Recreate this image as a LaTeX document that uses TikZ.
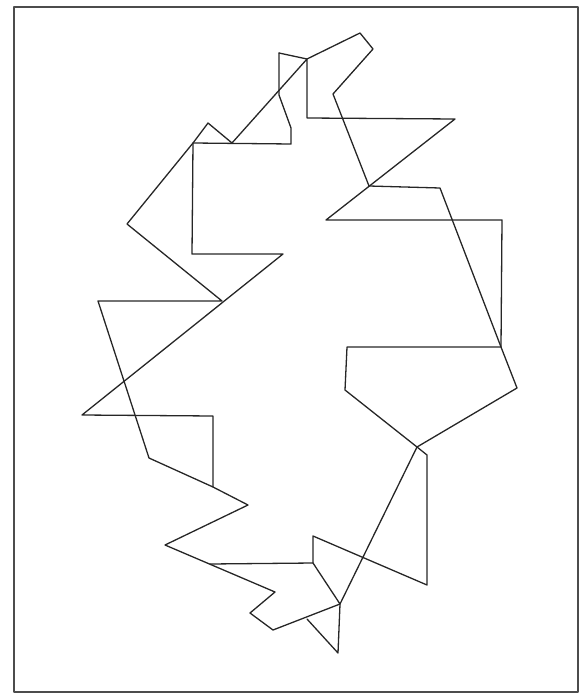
\documentclass[tikz,border=0pt]{standalone}
\usetikzlibrary{positioning}

\begin{document}
\begin{tikzpicture}[line cap=round,line join=round,x=1pt,y=-1pt]
	\useasboundingbox (0,0) rectangle (586,695);
	\draw [line width=2.4pt,color=black!70] (14,7) rectangle (578,692);
	% vertices
	\coordinate (a1) at (279,53);
	\coordinate (a2) at (307,59);
	\coordinate (a3) at (360,33);
	\coordinate (a4) at (373,49);
	\coordinate (a5) at (333,94);
	\coordinate (a6) at (369,186);
	\coordinate (a7) at (440,188);
	\coordinate (a8) at (501,347);
	\coordinate (a9) at (517,388);
	\coordinate (a10) at (417,447);
	\coordinate (a11) at (427,455);
	\coordinate (a12) at (427,585);
	\coordinate (a13) at (313,536);
	\coordinate (a14) at (313,563);
	\coordinate (a15) at (340,604);
	\coordinate (a16) at (338,653);
	\coordinate (a17) at (307,619);
	\coordinate (b1) at (307,118);
	\coordinate (b2) at (455,119);
	\coordinate (b3) at (326,220);
	\coordinate (b4) at (502,220);
	\coordinate (b5) at (347,347);
	\coordinate (b6) at (345,390);
	\coordinate (b7) at (273,630);
	\coordinate (b8) at (250,613);
	\coordinate (b9) at (275,592);
	\coordinate (b10) at (165,545);
	\coordinate (b11) at (248,505);
	\coordinate (b12) at (213,487);
	\coordinate (b13) at (213,416);
	\coordinate (b14) at (82,415);
	\coordinate (b15) at (283,254);
	\coordinate (b16) at (192,254);
	\coordinate (b17) at (193,143);
	\coordinate (b18) at (208,123);
	\coordinate (b19) at (232,143);
	\coordinate (c1) at (210,564);
	\coordinate (d1) at (149,458);
	\coordinate (d2) at (98,301);
	\coordinate (d3) at (222,301);
	\coordinate (d4) at (127,224);
	\coordinate (d5) at (291,144);
	\coordinate (d6) at (291,128);
	\coordinate (d7) at (279,95);
	\tikzset{walk/.style={line width=1.3pt,color=black!85}}
	\draw [walk] (a1)--(a2)--(a3)--(a4)--(a5)--(a6)--(a7)--(a8)--(a9)--(a10)--(a11)--(a12)--(a13)--(a14)--(a15)--(a16)--(a17);
	\draw [walk] (a2)--(b1)--(b2)--(b3)--(b4)--(a8)--(b5)--(b6)--(a10)--(a15)--(b7)--(b8)--(b9)--(b10)--(b11)--(b12)--(b13)--(b14)--(b15)--(b16)--(b17)--(b18)--(b19)--(a2);
	\draw [walk] (a14)--(c1);
	\draw [walk] (b12)--(d1)--(d2)--(d3)--(d4)--(b17)--(d5)--(d6)--(d7)--(a1);
\end{tikzpicture}
\end{document}
